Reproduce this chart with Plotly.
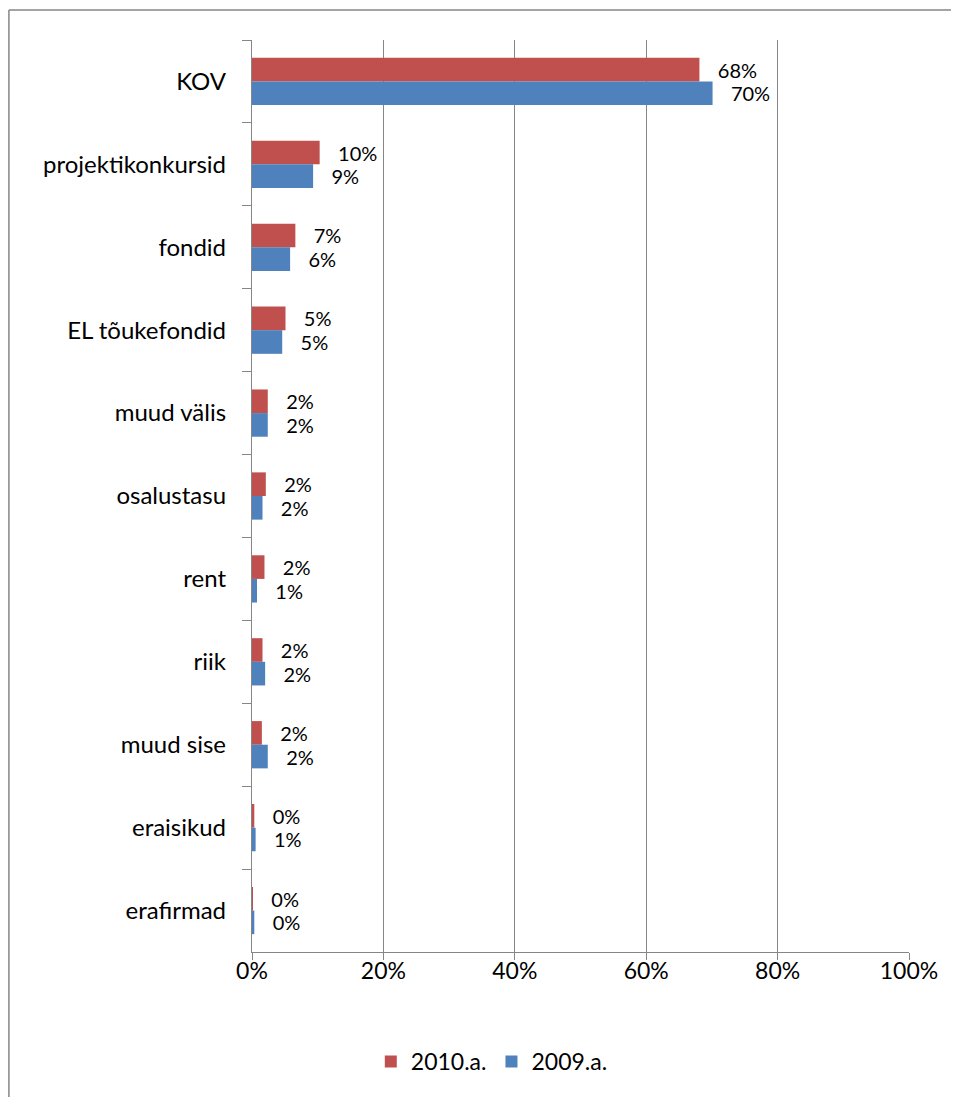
import plotly.graph_objects as go

# categories, top to bottom as in the chart
kategooriad = ["KOV", "projektikonkursid", "fondid", "EL tõukefondid", "muud välis",
               "osalustasu", "rent", "riik", "muud sise", "eraisikud", "erafirmad"]

# shares (fraction of total)
a2010 = [0.681, 0.103, 0.066, 0.051, 0.024, 0.021, 0.019, 0.016, 0.015, 0.0035, 0.0015]
a2009 = [0.701, 0.093, 0.058, 0.046, 0.024, 0.016, 0.0076, 0.020, 0.024, 0.0055, 0.0035]

punane = "#C0504D"
sinine = "#4F81BD"
hall = "#868686"
fnt = "Lato"
fs = 23

fig = go.Figure()
for nimi, vals, col in [("2010.a.", a2010, punane), ("2009.a.", a2009, sinine)]:
    fig.add_trace(go.Bar(
        y=kategooriad, x=vals, orientation="h", name=nimi,
        marker=dict(color=col, line=dict(width=0)),
        texttemplate="   %{x:.0%}", textposition="outside", cliponaxis=False,
        constraintext="none",
        textfont=dict(family=fnt, size=20, color="black")))

# page body has an 8px margin, so the figure is a bit smaller than the window
fig.update_layout(
    width=951, height=1089,
    margin=dict(l=244, r=50, t=32, b=145),
    paper_bgcolor="white", plot_bgcolor="white",
    barmode="group", bargap=0.43, bargroupgap=0,
    font=dict(family=fnt, size=fs, color="black"),
    showlegend=True,
    legend=dict(orientation="h", x=0.365, xanchor="center", y=-0.12, yanchor="middle",
                font=dict(family=fnt, size=fs), traceorder="normal",
                itemwidth=30),
    xaxis=dict(range=[0, 1], tickvals=[0, 0.2, 0.4, 0.6, 0.8, 1.0],
               tickformat=".0%", showgrid=True, gridcolor=hall, gridwidth=1.3,
               ticks="outside", ticklen=7, tickcolor=hall, zeroline=False,
               showline=True, linecolor=hall, linewidth=1.3, ticklabelstandoff=-9,
               fixedrange=True),
    yaxis=dict(autorange="reversed", tickson="boundaries", ticks="outside",
               ticklen=9, tickcolor=hall, showline=True, linecolor=hall,
               linewidth=1.3, showgrid=False, ticklabelstandoff=20, fixedrange=True,
               tickfont=dict(family=fnt, size=24)),
    shapes=[
        dict(type="line", xref="paper", yref="paper", x0=-0.37, x1=1.2,
             y0=1.0329, y1=1.0329, line=dict(color=hall, width=1.5)),
        dict(type="line", xref="paper", yref="paper", x0=-0.37, x1=-0.37,
             y0=1.0329, y1=-0.2, line=dict(color=hall, width=1.5)),
    ],
)

fig.write_html("out.html")
